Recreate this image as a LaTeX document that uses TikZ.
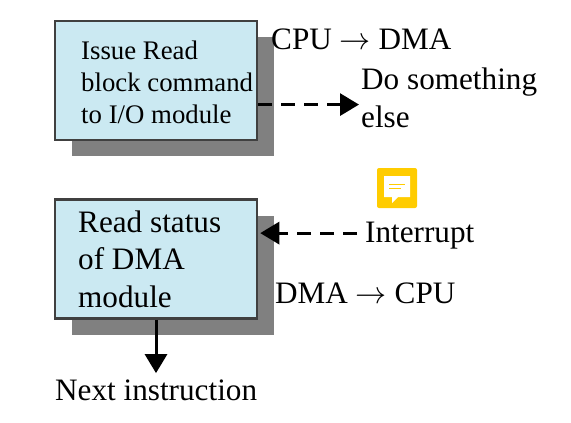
\documentclass[tikz,border=0pt]{standalone}
\usepackage{xcolor}
\usepackage{graphicx}
\usepackage{fontspec}
\setmainfont{Liberation Serif}
\definecolor{cBox}{HTML}{CBE9F2}
\definecolor{cEdge}{HTML}{404040}
\definecolor{cShade}{HTML}{808080}
\definecolor{cNote}{HTML}{FFCC00}
\usetikzlibrary{positioning,arrows.meta,shadows}
\newcommand{\longto}{\scalebox{1.25}{$\rightarrow$}}
\tikzset{
  node-box/.style={draw=cEdge,line width=2.5pt,fill=cBox,inner sep=0pt,
    minimum width=202pt,minimum height=119pt,
    drop shadow={shadow xshift=16.5pt,shadow yshift=-16pt,fill=cShade,opacity=1}},
  node-small/.style={inner sep=0pt,align=left,anchor=base west,
    font=\fontsize{26.8}{32}\selectfont},
  node-large/.style={inner sep=0pt,align=left,anchor=base west,
    font=\fontsize{31.2}{37.5}\selectfont},
  node-note/.style={fill=cNote,rounded corners=2pt,minimum size=40pt,inner sep=0pt},
  arrow/.style={-{Triangle[length=19pt,width=22pt]},line width=3pt,draw=black},
  arrow-async/.style={arrow,dash pattern=on 14pt off 9pt},
}
\begin{document}
\begin{tikzpicture}[x=1pt,y=-1pt]
  \useasboundingbox (0,0) rectangle (571,423);
  \node[node-box] (issue) at (156,80.5) {};
  \node[node-box] (status) at (156,259) {};
  \node[node-small] (issue-text) at (81,123) {Issue Read\\block command\\to I/O module};
  \node[node-large] (status-text) at (78,307) {Read status\\of DMA\\module};
  \node[node-large] (cpu-dma) at (271,49) {CPU \longto{} DMA};
  \node[node-large] (other) at (361,127) {Do something\\else};
  \node[node-large] (interrupt) at (365,242) {Interrupt};
  \node[node-large] (dma-cpu) at (275,303) {DMA \longto{} CPU};
  \node[node-large] (next) at (55,400) {Next instruction};
  % comment icon
  \node[node-note] (note) at (397,188) {};
  \fill[white] (384,176) -- (410,176) -- (410,197) -- (398,197) -- (392,203) -- (392,197) -- (384,197) -- cycle;
  \draw[cNote,line width=1pt] (389,184.5) -- (405,184.5) (389,188.5) -- (401,188.5);
  \draw[arrow-async] ([yshift=-7pt]issue.east |- other.west) -- ([xshift=-2pt,yshift=-7pt]other.west);
  \draw[arrow-async] ([xshift=-8pt,yshift=2pt]interrupt.west) -- ([xshift=2pt,yshift=2pt]status.east |- interrupt.west);
  \draw[arrow] (status.south) -- ([yshift=6pt]status.south |- next.north);
\end{tikzpicture}
\end{document}
